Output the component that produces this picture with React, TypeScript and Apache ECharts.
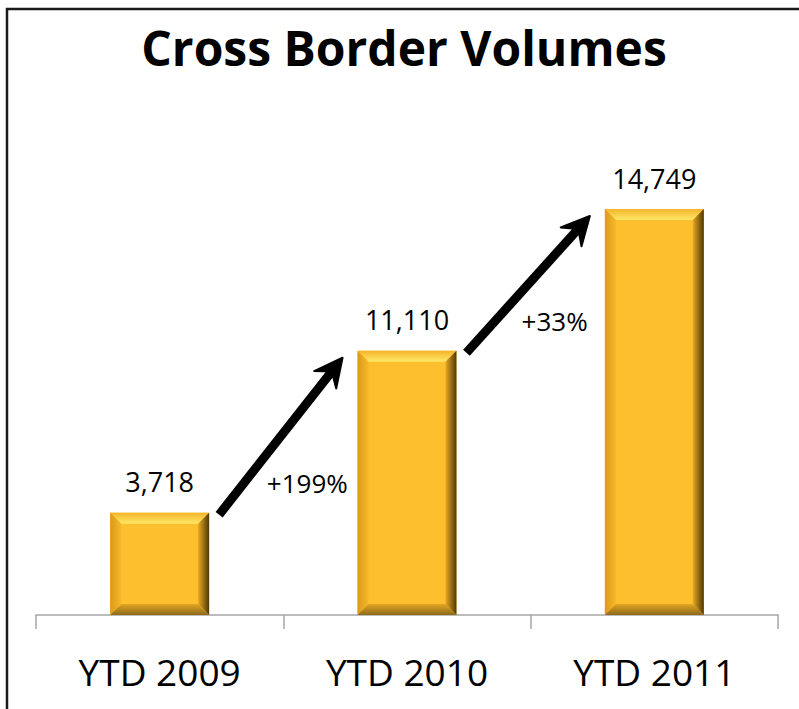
import React, { useEffect, useRef } from "react";
import * as echarts from "echarts";

const categories = ["YTD 2009", "YTD 2010", "YTD 2011"];
// bar heights as drawn in the picture
const barValues = [3718, 9600, 14749];
// value labels as printed above the bars
const valueLabels = ["3,718", "11,110", "14,749"];
// growth labels printed beside the arrows
const growthLabels = ["+199%", "+33%"];

const FONT = '"Open Sans", sans-serif';

export default function App() {
  const ref = useRef<HTMLDivElement>(null);

  useEffect(() => {
    document.body.style.margin = "0";
    if (!ref.current) return;
    const chart = echarts.init(ref.current, undefined, { renderer: "svg" });

    const barData = barValues.map((v, i) => [i, v]);
    const arrowData = barValues.slice(0, -1).map((v, i) => [i, v, barValues[i + 1]]);

    const option: any = {
      animation: false,
      backgroundColor: "#ffffff",
      title: {
        text: "Cross Border Volumes",
        left: 399,
        textAlign: "center",
        top: 18,
        textStyle: { fontFamily: FONT, fontWeight: "bold", fontSize: 48, color: "#000" },
      },
      graphic: [
        {
          type: "rect",
          shape: { x: 7, y: 9, width: 900, height: 900 },
          style: { fill: "none", stroke: "#1a1a1a", lineWidth: 2.5 },
          silent: true,
        },
      ],
      grid: { left: 36, right: 21, top: 174.6, bottom: 94 },
      xAxis: {
        type: "category",
        data: categories,
        boundaryGap: true,
        axisLine: { show: true, lineStyle: { color: "#A6A6A6", width: 1.5 } },
        axisTick: { show: true, length: 14, lineStyle: { color: "#A6A6A6", width: 1.5 } },
        axisLabel: { fontFamily: FONT, fontSize: 37, color: "#000", margin: 38 },
        splitLine: { show: false },
      },
      yAxis: {
        type: "value",
        min: 0,
        max: 16000,
        show: false,
        splitLine: { show: false },
      },
      series: [
        {
          type: "custom",
          name: "bars",
          data: barData,
          encode: { x: 0, y: 1 },
          renderItem: (params: any, api: any) => {
            const idx = api.value(0);
            const v = api.value(1);
            const base = api.coord([idx, 0]);
            const topPt = api.coord([idx, v]);
            const bandW = api.size([1, 0])[0];
            const w = bandW * 0.4;
            const x0 = base[0] - w / 2;
            const x1 = base[0] + w / 2;
            const y0 = topPt[1];
            const y1 = base[1];
            const b = 11;
            const lg = (x: number, y: number, x2: number, y2: number, c0: string, c1: string) =>
              new echarts.graphic.LinearGradient(x, y, x2, y2, [
                { offset: 0, color: c0 },
                { offset: 1, color: c1 },
              ]);
            return {
              type: "group",
              children: [
                {
                  type: "rect",
                  shape: { x: x0, y: y0, width: w, height: y1 - y0 },
                  style: { fill: "#FDBF2E" },
                },
                {
                  type: "polygon",
                  shape: { points: [[x0, y0], [x1, y0], [x1 - b, y0 + b], [x0 + b, y0 + b]] },
                  style: { fill: lg(0, 0, 0, 1, "#F4B428", "#FFE868") },
                },
                {
                  type: "polygon",
                  shape: { points: [[x0, y0], [x0 + b, y0 + b], [x0 + b, y1 - b], [x0, y1]] },
                  style: { fill: lg(0, 0, 1, 0, "#D99A1A", "#F8B82A") },
                },
                {
                  type: "polygon",
                  shape: { points: [[x1, y0], [x1, y1], [x1 - b, y1 - b], [x1 - b, y0 + b]] },
                  style: { fill: lg(0, 0, 1, 0, "#E8A822", "#4E3806") },
                },
                {
                  type: "polygon",
                  shape: { points: [[x0, y1], [x1, y1], [x1 - b, y1 - b], [x0 + b, y1 - b]] },
                  style: { fill: lg(0, 0, 0, 1, "#E3A522", "#8C6A1C") },
                },
                {
                  type: "text",
                  style: {
                    text: valueLabels[idx],
                    x: base[0],
                    y: y0 - 31,
                    align: "center",
                    verticalAlign: "middle",
                    fontFamily: FONT,
                    fontSize: 27,
                    fill: "#000",
                  },
                },
              ],
            };
          },
        },
        {
          type: "custom",
          name: "arrows",
          data: arrowData,
          encode: { x: 0, y: 1 },
          renderItem: (params: any, api: any) => {
            const idx = api.value(0);
            const v = api.value(1);
            const nv = api.value(2);
            const bandW = api.size([1, 0])[0];
            const w = bandW * 0.4;
            const p0 = api.coord([idx, v]);
            const p1 = api.coord([idx + 1, nv]);
            const sx = p0[0] + w / 2 + 10;
            const sy = p0[1] + 2;
            const tx = p1[0] - w / 2 - 15;
            const ty = p1[1] + 7;
            const dx = tx - sx;
            const dy = ty - sy;
            const len = Math.sqrt(dx * dx + dy * dy);
            const ux = dx / len;
            const uy = dy / len;
            const px = -uy;
            const py = ux;
            const hl = 28;
            const hw = 14;
            const lineEnd = [tx - ux * hl * 0.6, ty - uy * hl * 0.6];
            const head = [
              [tx, ty],
              [tx - ux * hl + px * hw, ty - uy * hl + py * hw],
              [tx - ux * hl * 0.62, ty - uy * hl * 0.62],
              [tx - ux * hl - px * hw, ty - uy * hl - py * hw],
            ];
            const gapCenter = (p0[0] + w / 2 + p1[0] - w / 2) / 2;
            return {
              type: "group",
              children: [
                {
                  type: "line",
                  shape: { x1: sx, y1: sy, x2: lineEnd[0], y2: lineEnd[1] },
                  style: { stroke: "#000", lineWidth: 9, lineCap: "butt" },
                },
                {
                  type: "polygon",
                  shape: { points: head },
                  style: { fill: "#000", stroke: "#000", lineWidth: 2, lineJoin: "round" },
                },
                {
                  type: "text",
                  style: {
                    text: growthLabels[idx],
                    x: gapCenter + 24,
                    y: p0[1] - 30,
                    align: "center",
                    verticalAlign: "middle",
                    fontFamily: FONT,
                    fontSize: 26,
                    fill: "#000",
                  },
                },
              ],
            };
          },
        },
      ],
    };

    chart.setOption(option);
    return () => chart.dispose();
  }, []);

  return (
    <div
      ref={ref}
      style={{ position: "absolute", left: 0, top: 0, width: 799, height: 709, background: "#fff" }}
    />
  );
}
